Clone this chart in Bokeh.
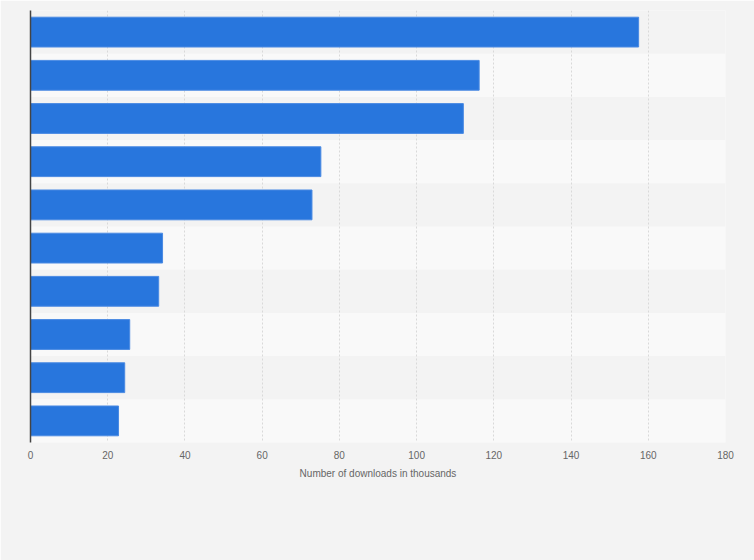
from bokeh.plotting import figure
from bokeh.models import Range1d, FixedTicker, ColumnDataSource
from bokeh.embed import file_html
from bokeh.resources import INLINE

# Data (top to bottom)
ranks = [1, 2, 3, 4, 5, 6, 7, 8, 9, 10]
downloads = [157.5, 116.2, 112.1, 75.2, 72.9, 34.2, 33.2, 25.7, 24.4, 22.8]
x_ticks = [0, 20, 40, 60, 80, 100, 120, 140, 160, 180]
x_title = "Number of downloads in thousands"

ypos = [r - 0.5 for r in ranks]
src = ColumnDataSource(dict(y=ypos, v=downloads))

p = figure(width=754, height=560, output_backend="svg", toolbar_location=None,
           x_range=Range1d(0, 180), y_range=Range1d(len(ranks), 0),
           min_border_left=30, min_border_right=29, min_border_top=10,
           min_border_bottom=118)
p.background_fill_color = "#f3f3f3"
p.border_fill_color = "#f3f3f3"
p.outline_line_color = None

p.hbar(y="y", right="v", left=0, height=0.69, source=src,
       fill_color="#2876dd", line_color="#4a8ae3", line_width=1)

# Grid
p.xgrid.ticker = FixedTicker(ticks=x_ticks)
p.xgrid.grid_line_color = "#d9d9d9"
p.xgrid.grid_line_dash = "2 2"
p.xgrid.grid_line_width = 1
p.ygrid.ticker = FixedTicker(ticks=list(range(len(ranks) + 1)))
p.ygrid.grid_line_color = None
p.ygrid.band_fill_color = "#f9f9f9"
p.ygrid.band_fill_alpha = 1.0

# draw bands below the vertical grid lines
yg = p.ygrid[0]
xg = p.xgrid[0]
others = [r for r in p.center if r is not yg and r is not xg]
p.center = [yg, xg] + others

# X axis
p.xaxis.ticker = FixedTicker(ticks=x_ticks)
p.xaxis.axis_line_color = None
p.xaxis.major_tick_line_color = None
p.xaxis.minor_tick_line_color = None
p.xaxis.major_tick_in = 0
p.xaxis.major_tick_out = 0
p.xaxis.major_label_standoff = 8
p.xaxis.major_label_text_font = "Liberation Sans"
p.xaxis.major_label_text_font_size = "10px"
p.xaxis.major_label_text_color = "#666666"
p.xaxis.axis_label = x_title
p.xaxis.axis_label_text_font = "Liberation Sans"
p.xaxis.axis_label_text_font_size = "10px"
p.xaxis.axis_label_text_font_style = "normal"
p.xaxis.axis_label_text_color = "#666666"
p.xaxis.axis_label_standoff = 6

# Y axis: line only
p.yaxis.ticker = FixedTicker(ticks=[])
p.yaxis.major_label_text_font_size = "0px"
p.yaxis.major_tick_line_color = None
p.yaxis.minor_tick_line_color = None
p.yaxis.axis_line_color = "#444444"
p.yaxis.axis_line_width = 1.5

open("out.html", "w").write(file_html(p, INLINE))
